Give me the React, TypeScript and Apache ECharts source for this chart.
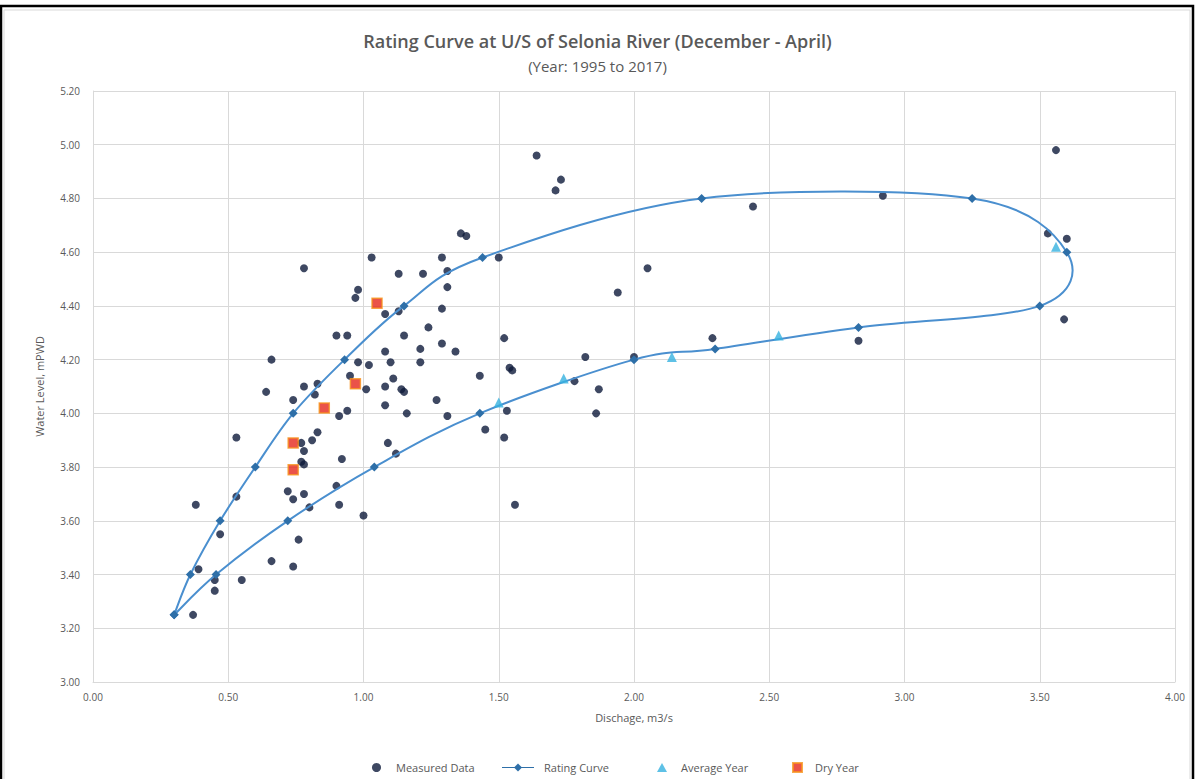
import React, { useEffect, useRef } from "react";
import * as echarts from "echarts";

// Field measurements: [discharge m3/s, water level mPWD]
const measuredData: number[][] = [
  [0.78, 4.54], [1.03, 4.58], [1.29, 4.58], [1.13, 4.52], [1.22, 4.52], [1.31, 4.53],
  [1.31, 4.47], [0.98, 4.46], [0.97, 4.43], [1.08, 4.37], [1.13, 4.38], [1.29, 4.39],
  [1.24, 4.32], [1.15, 4.29], [1.29, 4.26], [1.21, 4.24], [1.08, 4.23], [1.10, 4.19],
  [1.21, 4.19], [0.90, 4.29], [0.94, 4.29], [0.66, 4.20], [0.98, 4.19], [1.02, 4.18],
  [0.95, 4.14], [1.01, 4.09], [1.11, 4.13], [1.08, 4.10], [1.14, 4.09], [1.15, 4.08],
  [1.27, 4.05], [1.31, 3.99], [1.08, 4.03], [1.16, 4.00], [0.64, 4.08], [0.78, 4.10],
  [0.83, 4.11], [0.82, 4.07], [0.74, 4.05], [0.91, 3.99], [0.94, 4.01], [0.53, 3.91],
  [0.83, 3.93], [0.81, 3.90], [1.09, 3.89], [0.77, 3.89],
  [0.78, 3.86], [1.12, 3.85], [0.77, 3.82], [0.78, 3.81], [0.92, 3.83], [0.72, 3.71],
  [0.74, 3.68], [0.78, 3.70], [0.90, 3.73], [0.80, 3.65], [0.91, 3.66], [1.00, 3.62],
  [0.53, 3.69], [0.38, 3.66], [0.47, 3.55], [0.76, 3.53], [0.66, 3.45], [0.74, 3.43],
  [0.39, 3.42], [0.45, 3.38], [0.55, 3.38], [0.45, 3.34], [0.37, 3.25],
  [1.34, 4.23], [1.52, 4.28], [1.54, 4.17], [1.55, 4.16], [1.43, 4.14], [1.82, 4.21],
  [1.87, 4.09], [1.86, 4.00], [1.78, 4.12], [2.00, 4.21], [1.94, 4.45], [2.05, 4.54],
  [1.45, 3.94], [1.53, 4.01], [1.52, 3.91], [1.56, 3.66], [1.36, 4.67], [1.38, 4.66],
  [1.50, 4.58],
  [1.64, 4.96], [1.71, 4.83], [1.73, 4.87], [2.44, 4.77], [2.92, 4.81], [3.56, 4.98],
  [3.53, 4.67], [3.60, 4.65], [3.59, 4.35], [2.83, 4.27], [2.29, 4.28],
];

// Rating curve loop: rising limb, then falling limb back to the start
const ratingCurve: number[][] = [
  [0.30, 3.25], [0.36, 3.40], [0.47, 3.60], [0.60, 3.80], [0.74, 4.00], [0.93, 4.20],
  [1.15, 4.40], [1.44, 4.58], [2.25, 4.80], [3.25, 4.80], [3.60, 4.60], [3.50, 4.40],
  [2.83, 4.32], [2.30, 4.24], [2.00, 4.20], [1.43, 4.00], [1.04, 3.80], [0.72, 3.60],
  [0.455, 3.40], [0.30, 3.25],
];

const averageYear: number[][] = [
  [1.50, 4.04], [1.74, 4.13], [2.14, 4.21], [2.535, 4.29], [3.56, 4.62],
];

const dryYear: number[][] = [
  [0.74, 3.79], [0.74, 3.89], [0.855, 4.02], [0.97, 4.11], [1.05, 4.41],
];

const titleText = "Rating Curve at U/S of Selonia River (December - April)";
const subtitleText = "(Year: 1995 to 2017)";
const xAxisName = "Dischage, m3/s";
const yAxisName = "Water Level, mPWD";

const FONT = "'Open Sans', 'Noto Sans', sans-serif";
const TEXT_GREY = "#595959";
const CURVE_LINE = "#4a8fcf";
const CURVE_MARK = "#2e6fa8";

// Smoothed segment i -> i+1 of the rating curve (cardinal spline as bezier),
// plus the diamond marker at point i. Everything is placed through api.coord.
function renderRatingCurve(params: any, api: any) {
  const i: number = params.dataIndex;
  const pts = ratingCurve.map((p) => api.coord(p));
  const n = pts.length;
  const children: any[] = [];
  if (i < n - 1) {
    const p0 = pts[Math.max(i - 1, 0)];
    const p1 = pts[i];
    const p2 = pts[i + 1];
    const p3 = pts[Math.min(i + 2, n - 1)];
    const t = 1 / 6;
    children.push({
      type: "bezierCurve",
      shape: {
        x1: p1[0],
        y1: p1[1],
        x2: p2[0],
        y2: p2[1],
        cpx1: p1[0] + (p2[0] - p0[0]) * t,
        cpy1: p1[1] + (p2[1] - p0[1]) * t,
        cpx2: p2[0] - (p3[0] - p1[0]) * t,
        cpy2: p2[1] - (p3[1] - p1[1]) * t,
      },
      style: { stroke: CURVE_LINE, lineWidth: 2, fill: "none" },
    });
  }
  const c = pts[i];
  const r = 4.5;
  children.push({
    type: "polygon",
    shape: {
      points: [
        [c[0], c[1] - r],
        [c[0] + r, c[1]],
        [c[0], c[1] + r],
        [c[0] - r, c[1]],
      ],
    },
    style: { fill: CURVE_MARK },
  });
  return { type: "group", children };
}

export default function App() {
  const ref = useRef<HTMLDivElement>(null);

  useEffect(() => {
    if (!ref.current) return;
    const chart = echarts.init(ref.current, undefined, { renderer: "svg" });

    const legendText = (padLeft: number) => ({
      fontSize: 11,
      color: TEXT_GREY,
      fontFamily: FONT,
      padding: [0, 0, 0, padLeft],
    });

    chart.setOption({
      animation: false,
      backgroundColor: "#ffffff",
      textStyle: { fontFamily: FONT },
      graphic: [
        {
          type: "rect",
          shape: { x: 1, y: 6, width: 1192, height: 800 },
          style: { fill: "none", stroke: "#000000", lineWidth: 2.5 },
          silent: true,
        },
        {
          type: "rect",
          shape: { x: 4, y: 10, width: 1186, height: 800 },
          style: { fill: "none", stroke: "#d9d9d9", lineWidth: 1 },
          silent: true,
        },
      ],
      title: [
        {
          text: titleText,
          left: "center",
          top: 26,
          padding: 5,
          textStyle: {
            fontSize: 18,
            lineHeight: 20,
            fontWeight: 600,
            color: TEXT_GREY,
            fontFamily: FONT,
          },
        },
        {
          text: subtitleText,
          left: "center",
          top: 53,
          padding: 5,
          textStyle: {
            fontSize: 15,
            lineHeight: 16,
            fontWeight: "normal",
            color: TEXT_GREY,
            fontFamily: FONT,
          },
        },
      ],
      grid: { left: 93, right: 20, top: 91, bottom: 97 },
      xAxis: {
        type: "value",
        min: 0,
        max: 4,
        interval: 0.5,
        name: xAxisName,
        nameLocation: "middle",
        nameGap: 30,
        nameTextStyle: { fontSize: 11, color: TEXT_GREY, fontFamily: FONT },
        axisLine: { show: true, lineStyle: { color: "#d9d9d9" } },
        axisTick: { show: false },
        axisLabel: {
          fontSize: 10,
          color: TEXT_GREY,
          margin: 10,
          formatter: (v: number) => v.toFixed(2),
        },
        splitLine: { show: true, lineStyle: { color: "#d9d9d9", width: 1 } },
      },
      yAxis: {
        type: "value",
        min: 3,
        max: 5.2,
        interval: 0.2,
        name: yAxisName,
        nameLocation: "middle",
        nameGap: 48,
        nameTextStyle: { fontSize: 11, color: TEXT_GREY, fontFamily: FONT },
        axisLine: { show: true, lineStyle: { color: "#d9d9d9" } },
        axisTick: { show: false },
        axisLabel: {
          fontSize: 10,
          color: TEXT_GREY,
          margin: 13,
          formatter: (v: number) => v.toFixed(2),
        },
        splitLine: { show: true, lineStyle: { color: "#d9d9d9", width: 1 } },
      },
      legend: [
        {
          data: ["Measured Data"],
          left: 367,
          top: 757,
          itemWidth: 9,
          itemHeight: 9,
          textStyle: legendText(10),
        },
        {
          data: [
            {
              name: "Rating Curve",
              icon: "path://M0,3.4L32,3.4L32,4.6L0,4.6Z M16,0L20,4L16,8L12,4Z",
            },
          ],
          left: 497,
          top: 757,
          itemWidth: 32,
          itemHeight: 8,
          textStyle: legendText(5),
        },
        {
          data: ["Average Year"],
          left: 652,
          top: 757,
          itemWidth: 10,
          itemHeight: 9,
          textStyle: legendText(9),
        },
        {
          data: ["Dry Year"],
          left: 787,
          top: 757,
          itemWidth: 9,
          itemHeight: 9,
          textStyle: legendText(8),
        },
      ],
      series: [
        {
          name: "Measured Data",
          type: "scatter",
          data: measuredData,
          symbol: "circle",
          symbolSize: 8,
          itemStyle: { color: "#0e1a3b" },
          z: 2,
        },
        {
          name: "Rating Curve",
          type: "custom",
          data: ratingCurve,
          encode: { x: 0, y: 1 },
          renderItem: renderRatingCurve,
          itemStyle: { color: CURVE_MARK },
          z: 3,
        },
        {
          name: "Average Year",
          type: "scatter",
          data: averageYear,
          symbol: "triangle",
          symbolSize: 10,
          itemStyle: { color: "#36b1e0" },
          z: 4,
        },
        {
          name: "Dry Year",
          type: "scatter",
          data: dryYear,
          symbol: "rect",
          symbolSize: 10,
          itemStyle: { color: "#e5281b", borderColor: "#f7941d", borderWidth: 1.5 },
          z: 5,
        },
      ],
    });

    return () => chart.dispose();
  }, []);

  return (
    <div
      ref={ref}
      style={{ position: "absolute", left: 0, top: 0, width: 1195, height: 779, background: "#fff" }}
    />
  );
}
